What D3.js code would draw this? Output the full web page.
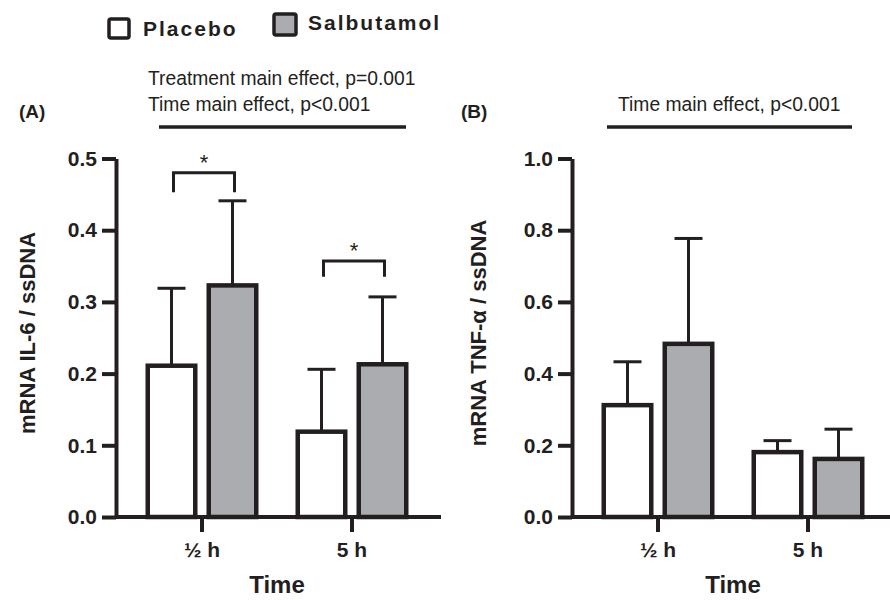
<!DOCTYPE html>
<html>
<head>
<meta charset="utf-8">
<script src="https://cdn.jsdelivr.net/npm/d3@7"></script>
<style>
  body { margin: 0; background: #fff; }
  svg text { font-family: Arial, "Liberation Sans", sans-serif; fill: #231f20; }
</style>
</head>
<body>
<svg id="chart" width="890" height="600"></svg>
<script>
// data
let times = ["½ h", "5 h"];
let groups = ["Placebo", "Salbutamol"];

let il6Placebo = [0.211, 0.119];
let il6PlaceboErr = [0.108, 0.087];
let il6Salbutamol = [0.323, 0.213];
let il6SalbutamolErr = [0.118, 0.094];

let tnfPlacebo = [0.312, 0.181];
let tnfPlaceboErr = [0.121, 0.032];
let tnfSalbutamol = [0.483, 0.162];
let tnfSalbutamolErr = [0.294, 0.083];

let il6Ticks = [0, 0.1, 0.2, 0.3, 0.4, 0.5];
let tnfTicks = [0, 0.2, 0.4, 0.6, 0.8, 1.0];

// significance brackets, panel A (top of bracket, end of legs)
let sigTop = [0.48, 0.357];
let sigLeg = [0.453, 0.335];

let ink = "#231f20";
let grey = "#abacaf";

let svg = d3.select("#chart");

// legend
let legend = [
  {name: "Placebo", fill: "#fff", bx: 109, by: 19, bw: 20, bh: 19, tx: 143, ty: 36},
  {name: "Salbutamol", fill: grey, bx: 274, by: 14, bw: 22, bh: 21, tx: 308, ty: 30}
];
legend.forEach(function(d) {
  svg.append("rect")
    .attr("x", d.bx).attr("y", d.by)
    .attr("width", d.bw).attr("height", d.bh)
    .attr("rx", 2)
    .attr("fill", d.fill)
    .attr("stroke", ink)
    .attr("stroke-width", 3.5);
  svg.append("text")
    .attr("x", d.tx).attr("y", d.ty)
    .attr("font-size", 21)
    .attr("font-weight", "bold")
    .attr("letter-spacing", 2)
    .text(d.name);
});

function drawPanel(opt) {
  let g = svg.append("g");

  let y = d3.scaleLinear().domain([0, opt.max]).range([517, 158.5]);

  let x0 = d3.scaleBand().domain(times)
    .range([opt.axisX + 11, opt.axisX + 311]);
  let x1 = d3.scaleBand().domain(groups)
    .range([-54.25, 54.25])
    .paddingInner(0.221);

  // y axis
  let yAxis = g.append("g")
    .attr("transform", "translate(" + opt.axisX + ",0)")
    .call(d3.axisLeft(y).tickValues(opt.ticks).tickFormat(d3.format(".1f"))
      .tickSize(14).tickSizeOuter(0).tickPadding(5));
  yAxis.selectAll("path, line").attr("stroke", ink).attr("stroke-width", 4);
  yAxis.selectAll("text")
    .attr("font-size", 21).attr("font-weight", "bold")
    .attr("font-family", null).attr("fill", ink);

  // x axis
  let xAxis = g.append("g")
    .attr("transform", "translate(0," + y(0) + ")")
    .call(d3.axisBottom(x0).tickSize(15).tickSizeOuter(0).tickPadding(10));
  xAxis.select(".domain").remove();
  xAxis.selectAll("line").attr("stroke", ink).attr("stroke-width", 4);
  xAxis.selectAll("text")
    .attr("font-size", 21).attr("font-weight", "bold")
    .attr("font-family", null).attr("fill", ink);

  g.append("line")
    .attr("x1", opt.axisX).attr("x2", opt.axisEnd)
    .attr("y1", y(0)).attr("y2", y(0))
    .attr("stroke", ink).attr("stroke-width", 4);

  // bars
  let rows = [];
  times.forEach(function(t, i) {
    rows.push({time: t, group: "Placebo", v: opt.placebo[i], e: opt.placeboErr[i], fill: "#fff"});
    rows.push({time: t, group: "Salbutamol", v: opt.salb[i], e: opt.salbErr[i], fill: grey});
  });

  function cx(d) {
    return x0(d.time) + x0.bandwidth() / 2 + x1(d.group) + x1.bandwidth() / 2;
  }

  let bar = g.selectAll(".bar").data(rows).enter().append("g").attr("class", "bar");

  bar.append("line")
    .attr("x1", cx).attr("x2", cx)
    .attr("y1", function(d) { return y(d.v); })
    .attr("y2", function(d) { return y(d.v + d.e); })
    .attr("stroke", ink).attr("stroke-width", 3);
  bar.append("line")
    .attr("x1", function(d) { return cx(d) - 14; })
    .attr("x2", function(d) { return cx(d) + 14; })
    .attr("y1", function(d) { return y(d.v + d.e); })
    .attr("y2", function(d) { return y(d.v + d.e); })
    .attr("stroke", ink).attr("stroke-width", 3);

  bar.append("rect")
    .attr("x", function(d) { return cx(d) - x1.bandwidth() / 2; })
    .attr("width", x1.bandwidth())
    .attr("y", function(d) { return y(d.v); })
    .attr("height", function(d) { return y(0) - y(d.v); })
    .attr("fill", function(d) { return d.fill; })
    .attr("stroke", ink)
    .attr("stroke-width", 4.5);

  // significance brackets
  if (opt.sig) {
    times.forEach(function(t, i) {
      let xa = cx({time: t, group: "Placebo"}) + 2;
      let xb = cx({time: t, group: "Salbutamol"}) + 2;
      g.append("path")
        .attr("d", "M" + xa + "," + y(sigLeg[i]) + "V" + y(sigTop[i]) +
                   "H" + xb + "V" + y(sigLeg[i]))
        .attr("fill", "none").attr("stroke", ink).attr("stroke-width", 3);
      g.append("text")
        .attr("x", (xa + xb) / 2)
        .attr("y", y(sigTop[i]) - 3)
        .attr("text-anchor", "middle")
        .attr("font-size", 22)
        .text("*");
    });
  }

  // main effect line and notes
  g.append("line")
    .attr("x1", opt.lineX[0]).attr("x2", opt.lineX[1])
    .attr("y1", 127).attr("y2", 127)
    .attr("stroke", ink).attr("stroke-width", 3.5);
  opt.notes.forEach(function(n, i) {
    g.append("text")
      .attr("x", opt.noteX)
      .attr("y", 111 - (opt.notes.length - 1 - i) * 26)
      .attr("font-size", 19.3)
      .text(n);
  });

  // panel letter
  g.append("text")
    .attr("x", opt.letterX).attr("y", 118)
    .attr("font-size", 19).attr("font-weight", "bold")
    .text(opt.letter);

  // axis titles
  g.append("text")
    .attr("transform", "translate(" + opt.titleX + ",333) rotate(-90)")
    .attr("text-anchor", "middle")
    .attr("font-size", 22).attr("font-weight", "bold")
    .text(opt.yTitle);

  let mid = (x0(times[0]) + x0(times[1]) + x0.bandwidth()) / 2;
  g.append("text")
    .attr("x", mid).attr("y", 593)
    .attr("text-anchor", "middle")
    .attr("font-size", 24).attr("font-weight", "bold")
    .text("Time");
}

drawPanel({
  axisX: 116, axisEnd: 441, max: 0.5, ticks: il6Ticks,
  placebo: il6Placebo, placeboErr: il6PlaceboErr,
  salb: il6Salbutamol, salbErr: il6SalbutamolErr,
  sig: true,
  lineX: [159, 406],
  notes: ["Treatment main effect, p=0.001", "Time main effect, p<0.001"],
  noteX: 148,
  letter: "(A)", letterX: 19,
  yTitle: "mRNA IL-6 / ssDNA", titleX: 35
});

drawPanel({
  axisX: 572, axisEnd: 890, max: 1.0, ticks: tnfTicks,
  placebo: tnfPlacebo, placeboErr: tnfPlaceboErr,
  salb: tnfSalbutamol, salbErr: tnfSalbutamolErr,
  sig: false,
  lineX: [607, 852],
  notes: ["Time main effect, p<0.001"],
  noteX: 618,
  letter: "(B)", letterX: 461,
  yTitle: "mRNA TNF-α / ssDNA", titleX: 486
});
</script>
</body>
</html>
